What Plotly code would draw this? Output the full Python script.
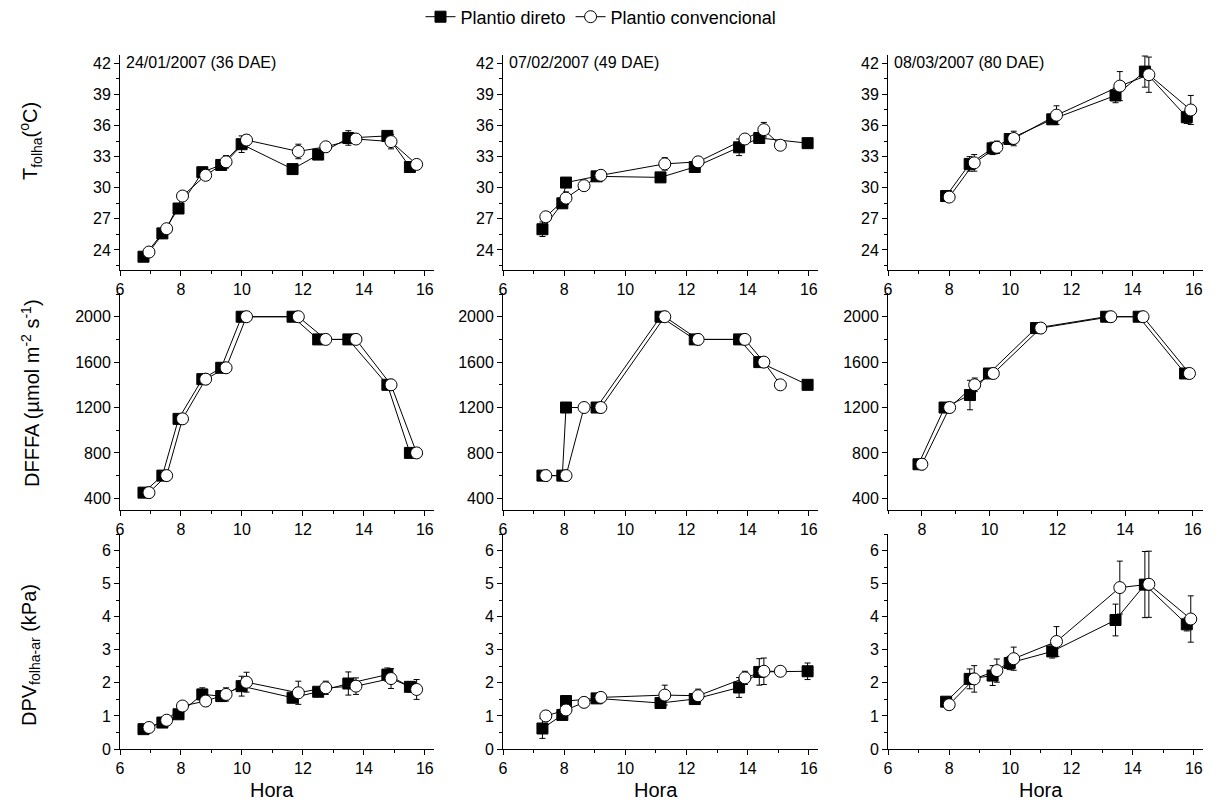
import plotly.graph_objects as go

# ---------------- DATA ----------------
dates = ["24/01/2007 (36 DAE)", "07/02/2007 (49 DAE)", "08/03/2007 (80 DAE)"]
series_names = ["Plantio direto", "Plantio convencional"]

# Column 1 : 24/01/2007
hora_pd_1 = [6.77, 7.39, 7.92, 8.70, 9.32, 9.99, 11.66, 12.50, 13.49, 14.77, 15.51]
hora_pc_1 = [6.95, 7.53, 8.05, 8.81, 9.48, 10.15, 11.85, 12.75, 13.74, 14.89, 15.73]
tf_pd_1 = [23.35, 25.6, 28.0, 31.5, 32.2, 34.2, 31.8, 33.2, 34.8, 35.0, 32.0]
tf_pc_1 = [23.8, 26.05, 29.2, 31.2, 32.5, 34.6, 33.5, 33.95, 34.7, 34.45, 32.25]
tf_pd_err_1 = [0.2, 0.2, 0.2, 0.3, 0.3, 0.8, 0.2, 0.3, 0.7, 0.3, 0.2]
tf_pc_err_1 = [0.3, 0.2, 0.3, 0.3, 0.6, 0.5, 0.7, 0.3, 0.4, 0.7, 0.2]
df_pd_1 = [450, 600, 1100, 1450, 1550, 2000, 2000, 1800, 1800, 1400, 800]
df_pc_1 = [450, 600, 1100, 1450, 1550, 2000, 2000, 1800, 1800, 1400, 800]
df_pd_err_1 = [20, 20, 20, 20, 20, 20, 20, 20, 20, 20, 20]
df_pc_err_1 = [40, 40, 40, 40, 40, 40, 40, 40, 40, 40, 40]
dpv_pd_1 = [0.6, 0.8, 1.05, 1.65, 1.6, 1.9, 1.55, 1.73, 1.98, 2.25, 1.88]
dpv_pc_1 = [0.65, 0.87, 1.3, 1.45, 1.65, 2.02, 1.7, 1.85, 1.9, 2.13, 1.8]
dpv_pd_err_1 = [0.1, 0.1, 0.1, 0.2, 0.15, 0.3, 0.15, 0.1, 0.35, 0.2, 0.15]
dpv_pc_err_1 = [0.1, 0.1, 0.1, 0.15, 0.2, 0.3, 0.35, 0.2, 0.25, 0.3, 0.3]

# Column 2 : 07/02/2007
hora_pd_2 = [7.29, 7.94, 8.06, 9.06, 11.15, 12.27, 13.72, 14.38, 15.96]
hora_pc_2 = [7.40, 8.06, 8.65, 9.20, 11.29, 12.38, 13.91, 14.53, 15.07]
tf_pd_2 = [26.0, 28.5, 30.5, 31.1, 31.0, 32.0, 33.9, 34.8, 34.3]
tf_pc_2 = [27.2, 29.0, 30.2, 31.2, 32.3, 32.5, 34.7, 35.6, 34.1]
tf_pd_err_2 = [0.7, 0.3, 0.3, 0.4, 0.2, 0.3, 0.8, 0.3, 0.3]
tf_pc_err_2 = [0.4, 0.6, 0.2, 0.3, 0.6, 0.5, 0.3, 0.7, 0.4]
df_pd_2 = [600, 600, 1200, 1200, 2000, 1800, 1800, 1600, 1400]
df_pc_2 = [600, 600, 1200, 1200, 2000, 1800, 1800, 1600, 1400]
df_pd_err_2 = [20, 20, 20, 20, 20, 20, 20, 20, 20]
df_pc_err_2 = [20, 20, 20, 20, 20, 20, 20, 20, 40]
dpv_pd_2 = [0.62, 1.03, 1.45, 1.53, 1.39, 1.51, 1.86, 2.33, 2.35]
dpv_pc_2 = [1.0, 1.18, 1.41, 1.56, 1.63, 1.61, 2.15, 2.35, 2.35]
dpv_pd_err_2 = [0.3, 0.1, 0.15, 0.1, 0.1, 0.1, 0.3, 0.4, 0.25]
dpv_pc_err_2 = [0.15, 0.1, 0.15, 0.1, 0.3, 0.2, 0.2, 0.4, 0.1]

# Column 3 : 08/03/2007
hora_pd_3 = [7.90, 8.67, 9.42, 9.98, 11.37, 13.44, 14.40, 15.77]
hora_pc_3 = [8.00, 8.82, 9.56, 10.11, 11.51, 13.58, 14.53, 15.90]
tf_pd_3 = [29.2, 32.3, 33.8, 34.7, 36.6, 38.9, 41.2, 36.8]
tf_pc_3 = [29.1, 32.4, 33.9, 34.75, 37.0, 39.8, 40.9, 37.5]
tf_pd_err_3 = [0.3, 0.7, 0.6, 0.4, 0.4, 0.7, 1.5, 0.6]
tf_pc_err_3 = [0.2, 0.8, 0.6, 0.7, 0.9, 1.4, 1.7, 1.4]
df_pd_3 = [700, 1200, 1310, 1500, 1900, 2000, 2000, 1500]
df_pc_3 = [700, 1200, 1400, 1500, 1900, 2000, 2000, 1500]
df_pd_err_3 = [30, 30, 130, 30, 30, 30, 30, 30]
df_pc_err_3 = [30, 30, 60, 30, 30, 30, 30, 30]
dpv_pd_3 = [1.43, 2.12, 2.22, 2.6, 2.95, 3.9, 4.97, 3.77]
dpv_pc_3 = [1.34, 2.12, 2.37, 2.73, 3.25, 4.88, 4.98, 3.93]
dpv_pd_err_3 = [0.1, 0.3, 0.3, 0.2, 0.2, 0.48, 1.0, 0.2]
dpv_pc_err_3 = [0.15, 0.4, 0.35, 0.35, 0.45, 0.8, 1.0, 0.7]

y_titles = ["T<sub>folha</sub>(<sup>o</sup>C)",
            "DFFFA (µmol m<sup>-2</sup> s<sup>-1</sup>)",
            "DPV<sub>folha-ar</sub> (kPa)"]
x_title = "Hora"

# ---------------- LAYOUT GEOMETRY ----------------
OFF = 8                     # page body margin
W, H = 1221 - OFF, 807 - OFF
FONT = "Liberation Sans, Arial, sans-serif"
col_px = [(120, 434), (503, 818), (888, 1203)]
row_px = [(55, 270), (293, 510), (534, 749)]
ytitle_center = [141, 393, 655]


def fx(px):
    return (px - OFF) / W


def fy(py):
    return 1 - (py - OFF) / H


cols = [
    (hora_pd_1, hora_pc_1,
     [(tf_pd_1, tf_pc_1, tf_pd_err_1, tf_pc_err_1),
      (df_pd_1, df_pc_1, df_pd_err_1, df_pc_err_1),
      (dpv_pd_1, dpv_pc_1, dpv_pd_err_1, dpv_pc_err_1)]),
    (hora_pd_2, hora_pc_2,
     [(tf_pd_2, tf_pc_2, tf_pd_err_2, tf_pc_err_2),
      (df_pd_2, df_pc_2, df_pd_err_2, df_pc_err_2),
      (dpv_pd_2, dpv_pc_2, dpv_pd_err_2, dpv_pc_err_2)]),
    (hora_pd_3, hora_pc_3,
     [(tf_pd_3, tf_pc_3, tf_pd_err_3, tf_pc_err_3),
      (df_pd_3, df_pc_3, df_pd_err_3, df_pc_err_3),
      (dpv_pd_3, dpv_pc_3, dpv_pd_err_3, dpv_pc_err_3)]),
]

y_cfg = [
    dict(range=[22.07, 42.8], tick0=24, dtick=3, minor_dtick=1.5),
    dict(range=[297, 2209], tick0=400, dtick=400, minor_dtick=200),
    dict(range=[0, 6.5], tick0=0, dtick=1, minor_dtick=0.5),
]

fig = go.Figure()
layout = dict(width=W, height=H,
              margin=dict(l=0, r=0, t=0, b=0, pad=0, autoexpand=False),
              paper_bgcolor="white", plot_bgcolor="white",
              font=dict(family=FONT, color="black", size=14),
              showlegend=True)

annotations = []
for c in range(3):
    hpd, hpc, rows = cols[c]
    for r in range(3):
        k = r * 3 + c + 1
        xa = "x" if k == 1 else f"x{k}"
        ya = "y" if k == 1 else f"y{k}"
        ypd, ypc, epd, epc = rows[r]
        show = (k == 1)
        fig.add_trace(go.Scatter(
            x=hpd, y=ypd, xaxis=xa, yaxis=ya, mode="lines+markers",
            name=series_names[0], legendgroup="pd", showlegend=show,
            line=dict(color="black", width=1),
            marker=dict(symbol="square", size=11, color="black",
                        line=dict(color="black", width=1)),
            error_y=dict(type="data", array=epd, visible=True,
                         color="black", thickness=1, width=3)))
        fig.add_trace(go.Scatter(
            x=hpc, y=ypc, xaxis=xa, yaxis=ya, mode="lines+markers",
            name=series_names[1], legendgroup="pc", showlegend=show,
            line=dict(color="black", width=1),
            marker=dict(symbol="circle", size=12, color="white",
                        line=dict(color="black", width=1)),
            error_y=dict(type="data", array=epc, visible=True,
                         color="black", thickness=1, width=3)))

        x0, x1 = col_px[c]
        y0, y1 = row_px[r]
        xr = [6, 16.3]
        if c == 2 and r == 1:
            xr = [7, 16.3]
        xkey = "xaxis" if k == 1 else f"xaxis{k}"
        ykey = "yaxis" if k == 1 else f"yaxis{k}"
        layout[xkey] = dict(
            domain=[fx(x0), fx(x1)], anchor=ya, range=xr,
            tickmode="linear", tick0=6, dtick=2,
            ticks="outside", ticklen=5, tickwidth=1, tickcolor="black",
            minor=dict(ticks="outside", ticklen=3, tickwidth=1,
                       tickcolor="black", dtick=1, tick0=6),
            showline=True, linecolor="black", linewidth=1,
            showgrid=False, zeroline=False, mirror=False,
            tickfont=dict(family=FONT, size=16, color="black"))
        cfg = y_cfg[r]
        layout[ykey] = dict(
            domain=[fy(y1), fy(y0)], anchor=xa, range=cfg["range"],
            tickmode="linear", tick0=cfg["tick0"], dtick=cfg["dtick"],
            ticks="outside", ticklen=5, tickwidth=1, tickcolor="black",
            minor=dict(ticks="outside", ticklen=3, tickwidth=1,
                       tickcolor="black", dtick=cfg["minor_dtick"]),
            showline=True, linecolor="black", linewidth=1,
            showgrid=False, zeroline=False,
            tickfont=dict(family=FONT, size=16, color="black"))

    # date label in top row
    annotations.append(dict(
        text=dates[c], xref="paper", yref="paper",
        x=fx(col_px[c][0] + 4), y=fy(62), xanchor="left", yanchor="middle",
        showarrow=False, font=dict(family=FONT, size=16, color="black")))
    # x title
    annotations.append(dict(
        text=x_title, xref="paper", yref="paper",
        x=fx((col_px[c][0] + col_px[c][1]) / 2 - 5), y=fy(790),
        xanchor="center", yanchor="middle", showarrow=False,
        font=dict(family=FONT, size=20, color="black")))

for r in range(3):
    annotations.append(dict(
        text=y_titles[r], xref="paper", yref="paper",
        x=fx(30), y=fy(ytitle_center[r]), xanchor="center", yanchor="middle",
        textangle=-90, showarrow=False,
        font=dict(family=FONT, size=20, color="black")))

layout["annotations"] = annotations
layout["legend"] = dict(orientation="h", x=fx(601), y=fy(17),
                        xanchor="center", yanchor="middle",
                        font=dict(family=FONT, size=18, color="black"),
                        bgcolor="rgba(0,0,0,0)")

fig.update_layout(**layout)
fig.write_html("out.html")
